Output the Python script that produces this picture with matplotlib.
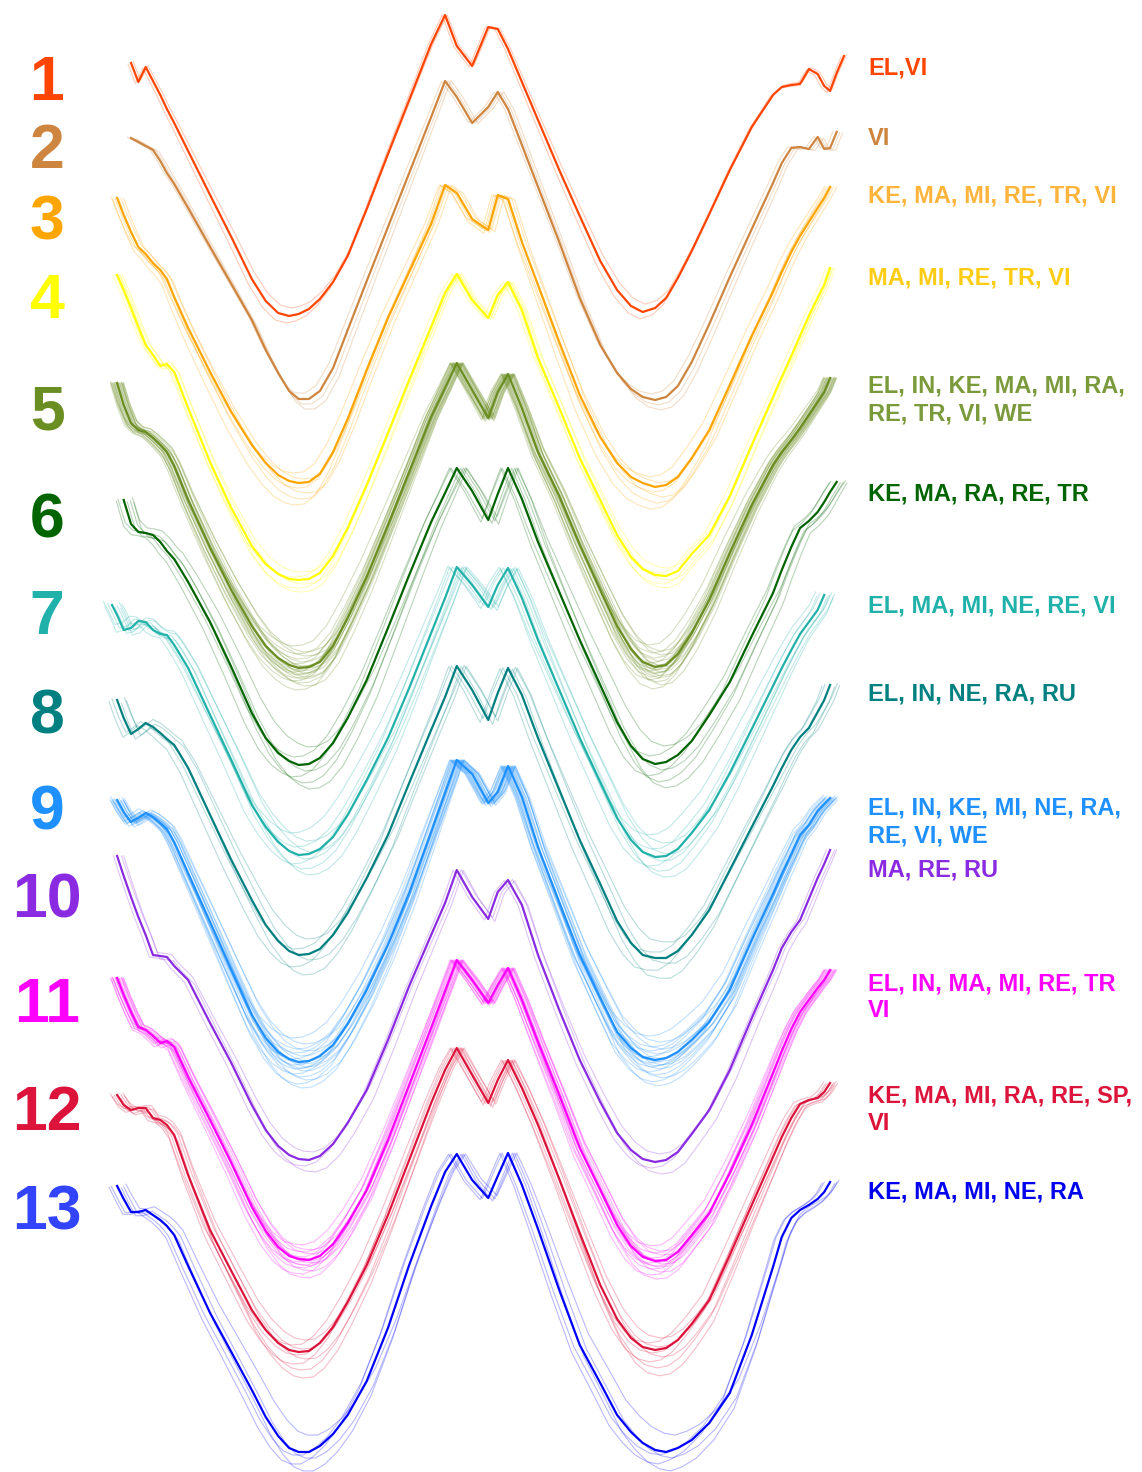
import numpy as np
import matplotlib.pyplot as plt

nan = np.nan

# sample positions along the cycle (%), shared by all groups
cycle = [0, 0.7, 1.6, 2.6, 3.6, 4.6, 5.6, 6.6, 7.5, 8.5, 10.4, 13.4, 16.3, 19.1,
         21.0, 22.7, 24.2, 25.5, 26.9, 28.4, 30.2, 32.2, 34.8, 37.7, 40.6, 43.6, 45.5,
         47.1, 49.2, 51.4, 52.7, 54.1, 56.0, 58.2, 61.1, 63.9, 66.7, 69.0, 70.9, 72.5,
         74.2, 75.7, 77.3, 79.2, 81.6, 84.4, 87.4, 90.3, 91.5, 92.8, 94.0, 95.2, 96.4,
         97.3, 98.1, 99.0, 100]

# mean curve of each group (height above its own first minimum)
g1 = [nan, nan, nan, 253, 234, 249, 235, 221, 207, 193, 165, 121, 79, 37, 15, 3, 0, 2, 7,
      17, 34, 60, 107, 162, 216, 272, 301, 270, 250, 289, 287, 267, 234, 196, 146, 100, 55,
      26, 10, 4, 8, 18, 38, 65, 102, 146, 189, 221, 229, 231, 232, 247, 242, 230, 225, 243, 260]
g2 = [nan, nan, nan, 262, 258, 254, 250, 239, 227, 216, 192, 153, 116, 80, 50, 27, 9, 1, 1,
      9, 32, 70, 119, 173, 227, 283, 319, 303, 277, 293, 308, 291, 255, 213, 158, 102, 55,
      27, 11, 3, 0, 3, 14, 38, 76, 123, 171, 217, 237, 252, 253, 251, 263, 251, 252, 268, nan]
g3 = [nan, 285, 268, 251, 236, 229, 220, 213, 204, 186, 155, 111, 71, 38, 20, 8, 2, 0, 1,
      9, 31, 64, 113, 165, 211, 259, 298, 290, 264, 253, 288, 284, 241, 198, 141, 88, 46,
      20, 6, 0, -4, -2, 6, 25, 53, 98, 147, 191, 211, 231, 247, 261, 275, 285, 296, nan, nan]
g4 = [nan, 305, 290, 272, 253, 235, 225, 214, 216, 208, 172, 118, 72, 34, 16, 6, 1, 0, 1,
      7, 24, 52, 95, 147, 200, 253, 287, 306, 280, 262, 285, 298, 270, 222, 172, 122, 80,
      45, 23, 11, 5, 4, 9, 26, 45, 84, 135, 183, 203, 224, 244, 264, 282, 295, 312, nan, nan]
g5 = [nan, 285, 263, 245, 238, 236, 230, 223, 216, 202, 168, 120, 78, 42, 22, 10, 3, 0, 1,
      6, 22, 50, 91, 143, 196, 251, 280, 305, 278, 250, 276, 294, 260, 216, 172, 123, 78,
      42, 19, 6, 1, 3, 14, 35, 68, 115, 163, 203, 216, 228, 240, 253, 266, 276, 290, nan, nan]
g6 = [nan, nan, 265, 241, 233, 232, 230, 223, 214, 206, 183, 143, 98, 52, 27, 12, 4, 0, 1,
      7, 22, 47, 85, 137, 190, 243, 272, 297, 274, 245, 271, 297, 266, 223, 173, 125, 80,
      43, 19, 6, 1, 3, 10, 24, 50, 83, 129, 172, 195, 218, 237, 244, 253, 263, 273, 283, nan]
g7 = [250, 240, 225, 227, 234, 233, 225, 221, 220, 210, 187, 140, 95, 50, 28, 13, 4, 0, 1,
      6, 18, 40, 75, 117, 167, 222, 257, 288, 270, 248, 270, 287, 257, 215, 165, 117, 73,
      37, 15, 3, -2, -1, 6, 22, 45, 82, 126, 169, 187, 205, 221, 233, 245, 260, nan, nan, nan]
g8 = [nan, 255, 237, 221, 226, 232, 228, 222, 216, 210, 187, 140, 95, 55, 30, 14, 4, 0, 1,
      6, 20, 42, 77, 120, 172, 225, 258, 289, 265, 235, 262, 287, 260, 217, 165, 115, 71,
      34, 12, 0, -3, -3, 4, 20, 45, 85, 128, 169, 187, 205, 218, 227, 243, 255, 270, nan, nan]
g9 = [nan, 262, 250, 240, 244, 249, 245, 239, 233, 220, 189, 140, 92, 47, 24, 10, 3, 0, 1,
      6, 17, 38, 72, 117, 169, 230, 269, 302, 288, 259, 270, 296, 265, 215, 160, 107, 64,
      30, 14, 5, 2, 4, 10, 22, 40, 72, 122, 168, 188, 208, 227, 237, 251, 258, 264, nan, nan]
g10 = [nan, 304, 284, 263, 243, 225, 205, 204, 203, 194, 180, 137, 97, 55, 30, 14, 5, 1, 0,
       4, 16, 37, 70, 120, 174, 225, 257, 290, 263, 241, 268, 280, 255, 205, 150, 100, 58,
       27, 10, 1, -2, 0, 8, 26, 50, 90, 142, 190, 212, 228, 240, 261, 282, 296, 310, nan, nan]
g11 = [nan, 282, 265, 248, 233, 230, 224, 217, 219, 213, 183, 140, 97, 53, 29, 13, 4, 1, 0,
       4, 16, 37, 70, 120, 175, 232, 269, 300, 280, 257, 275, 292, 260, 218, 165, 112, 70,
       35, 14, 3, -1, 0, 8, 25, 47, 87, 135, 187, 209, 231, 248, 260, 272, 280, 290, nan, nan]
g12 = [nan, 257, 247, 242, 244, 244, 234, 232, 227, 217, 177, 122, 81, 42, 22, 9, 2, 0, 1,
       9, 25, 50, 87, 137, 192, 249, 282, 304, 277, 249, 272, 292, 264, 227, 173, 119, 67,
       33, 14, 5, 2, 4, 12, 28, 52, 97, 147, 195, 215, 234, 248, 252, 254, 260, 269, nan, nan]
g13 = [nan, 267, 254, 241, 241, 243, 238, 233, 227, 218, 187, 140, 101, 63, 36, 17, 5, 1, 1,
       7, 19, 38, 72, 125, 188, 247, 281, 299, 273, 255, 277, 300, 268, 224, 163, 108, 70,
       38, 21, 10, 3, 1, 5, 13, 30, 60, 118, 186, 216, 235, 243, 248, 254, 261, 271, nan, nan]
means = [g1, g2, g3, g4, g5, g6, g7, g8, g9, g10, g11, g12, g13]

# individual subjects: extra depth at the minima and timing shift (% cycle)
depths = [
    [-8, 7],
    [-6, 5, 10],
    [-10, -4, 5, 10, 16, 22],
    [-8, -3, 4, 8, 12],
    [-22, -16, -14, -12, -9, -6, -4, -2, -1, 0, 2, 3, 4, 5, 6, 7, 9, 10, 11, 13, 15, 18, 22],
    [-18, -8, 6, 12, 18, 24],
    [-22, -14, -8, -3, 4, 9, 14, 20],
    [-16, -6, 5, 12, 20],
    [-24, -18, -13, -11, -9, -6, -3, -1, 1, 2, 3, 5, 6, 7, 9, 12, 15, 18, 22, 26],
    [-8, 6, 12],
    [-15, -10, -8, -6, -3, -1, 1, 2, 3, 5, 6, 8, 11, 14, 18],
    [-12, -7, -3, 3, 7, 12, 18, 26],
    [-17, 3, 6, 12, 19],
]
shifts = [
    [0.3, -0.4],
    [-0.5, 0.4, 0.8],
    [-0.8, 0.5, -0.3, 0.9, 0.2, -0.6],
    [0.4, -0.6, 0.7, -0.2, 0.3],
    [-0.9, 0.6, -0.4, 0.8, -0.2, 0.3, -0.7, 0.5, -0.1, 0.9, -0.5, 0.2, -0.8, 0.6, 0.0,
     -0.3, 0.7, -0.6, 0.4, -0.9, 0.1, 0.8, -0.4],
    [1.2, -0.8, 0.9, -1.0, 0.5, 1.4],
    [-1.2, 1.0, -0.6, 1.4, 0.7, -1.0, 0.4, 1.2],
    [1.0, -0.7, 1.3, -1.1, 0.6],
    [-0.9, 0.7, -0.4, 1.0, -0.6, 0.3, -1.0, 0.8, -0.2, 0.5, -0.7, 0.9, 0.1, -0.5, 0.6,
     -0.8, 0.2, 1.0, -0.3, 0.4],
    [0.6, -0.5, 0.9],
    [-0.7, 0.6, -0.3, 0.8, -0.6, 0.2, 0.5, -0.9, 0.9, -0.2, 0.3, -0.5, 0.7, -0.8, 0.1],
    [0.8, -0.9, 0.5, -0.4, 1.0, -0.7, 0.3, 0.6],
    [1.2, -0.8, 0.9, -1.1, 0.6],
]

group_ids = ['1', '2', '3', '4', '5', '6', '7', '8', '9', '10', '11', '12', '13']
group_labels = ['EL,VI', 'VI', 'KE, MA, MI, RE, TR, VI', 'MA, MI, RE, TR, VI',
                'EL, IN, KE, MA, MI, RA,\nRE, TR, VI, WE', 'KE, MA, RA, RE, TR',
                'EL, MA, MI, NE, RE, VI', 'EL, IN, NE, RA, RU',
                'EL, IN, KE, MI, NE, RA,\nRE, VI, WE', 'MA, RE, RU',
                'EL, IN, MA, MI, RE, TR\nVI', 'KE, MA, MI, RA, RE, SP,\nVI',
                'KE, MA, MI, NE, RA']

colors = ['#FF4500', '#CD853F', '#FFA500', '#FFFF00', '#6B8E23', '#006400', '#20B2AA',
          '#008080', '#1E90FF', '#8A2BE2', '#FF00FF', '#DC143C', '#0000FF']
num_colors = ['#FF4500', '#CD853F', '#FFA500', '#FFFF00', '#6B8E23', '#006400', '#20B2AA',
              '#008080', '#1E90FF', '#8A2BE2', '#FF00FF', '#DC143C', '#3344FF']
label_colors = ['#FF4500', '#CD853F', '#FFB43C', '#FFCC14', '#7A9A3C', '#006400', '#20B2AA',
                '#008080', '#1E90FF', '#8A2BE2', '#FF00FF', '#DC143C', '#0000EE']

# layout (pixels of the 1142x1472 canvas)
W, H = 1142, 1472
levels = [316, 400, 483, 580, 668, 765, 855, 955, 1062, 1160, 1260, 1352, 1453]
num_base = [100, 168, 240, 318, 430, 538, 634, 733, 829, 918, 1022, 1130, 1230]
lab_base = [75, 145, 203, 285, 393, 500, 612, 701, 815, 877, 990, 1103, 1198]

fig = plt.figure(figsize=(W / 100, H / 100), dpi=100)
ax = fig.add_axes([0, 0, 1, 1])
ax.set_xlim(-112 / 7.32, (W - 112) / 7.32)
ax.set_ylim(-H, 0)
ax.axis('off')

x = np.array(cycle)
for k in range(13):
    h = np.array(means[k], dtype=float)
    for d, s in zip(depths[k], shifts[k]):
        ax.plot(x + s, -levels[k] + h * (1 + d / 300.0) - d, color=colors[k],
                lw=0.8, alpha=0.28, zorder=2)
    ax.plot(x, -levels[k] + h, color=colors[k], lw=1.6, zorder=3)

for k in range(13):
    fig.text(47 / W, 1 - num_base[k] / H, group_ids[k], color=num_colors[k],
             fontsize=45, fontweight='bold', family='Liberation Sans',
             ha='center', va='baseline')
    for i, line in enumerate(group_labels[k].split('\n')):
        fig.text(868 / W, 1 - (lab_base[k] + 27 * i) / H, line, color=label_colors[k],
                 fontsize=17, fontweight='bold', family='Liberation Sans',
                 ha='left', va='baseline')

fig.savefig('out.png', dpi=100, facecolor='white')
